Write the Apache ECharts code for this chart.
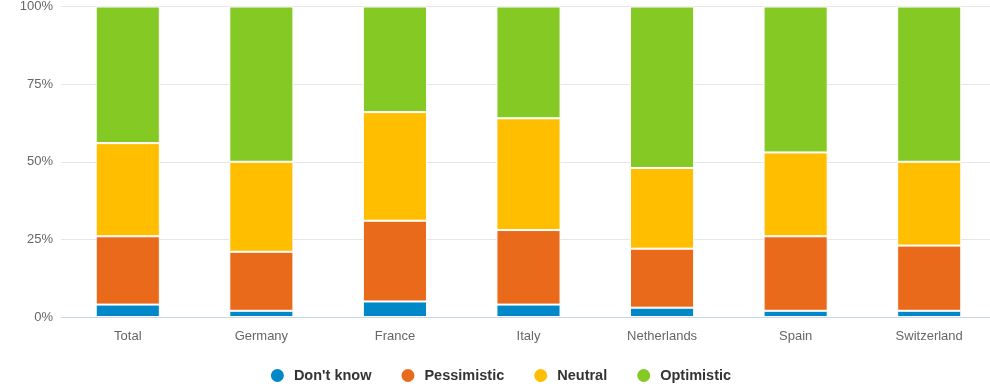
<!DOCTYPE html>
<html><head><meta charset="utf-8">
<script src="https://cdn.jsdelivr.net/npm/echarts@6/dist/echarts.min.js"></script>
<style>html,body{margin:0;padding:0;background:#fff;overflow:hidden;}#c{width:1000px;height:387px;}</style>
</head><body><div id="c"></div>
<script>
const categories = ['Total','Germany','France','Italy','Netherlands','Spain','Switzerland'];
const dontKnow   = [4, 2, 5, 4, 3, 2, 2];
const pessimistic= [22, 19, 26, 24, 19, 24, 21];
const neutral    = [30, 29, 35, 36, 26, 27, 27];
const optimistic = [44, 50, 34, 36, 52, 47, 50];
const yTicks = [0, 25, 50, 75, 100];

const chart = echarts.init(document.getElementById('c'));
const font = 'Liberation Sans, Arial, sans-serif';
function s(name, data, color){
  return {name, type:'bar', stack:'a', data, barWidth:'48%',
    itemStyle:{color, borderColor:'#fff', borderWidth:1}};
}
chart.setOption({
  animation:false,
  grid:{left:61, right:4, top:4, height:313},
  legend:{bottom:3, left:'center', icon:'circle', itemWidth:15, itemHeight:15, itemGap:28, padding:0,
    textStyle:{fontFamily:font, fontSize:14.5, fontWeight:'bold', color:'#333', padding:[0,0,0,4]}},
  xAxis:{type:'category', data:categories,
    axisLine:{lineStyle:{color:'#ccd6eb', width:1}}, axisTick:{show:false},
    axisLabel:{fontFamily:font, fontSize:13, color:'#666', margin:13}},
  yAxis:{type:'value', min:0, max:100, interval:25,
    axisLabel:{fontFamily:font, fontSize:13, color:'#666', formatter:v=>yTicks.includes(v)?v+'%':''},
    splitLine:{lineStyle:{color:'#e6e6e6'}}},
  series:[s("Don't know", dontKnow, '#0088c9'), s('Pessimistic', pessimistic, '#ea6a1c'),
          s('Neutral', neutral, '#ffbf00'), s('Optimistic', optimistic, '#84c924')]
});
</script></body></html>
